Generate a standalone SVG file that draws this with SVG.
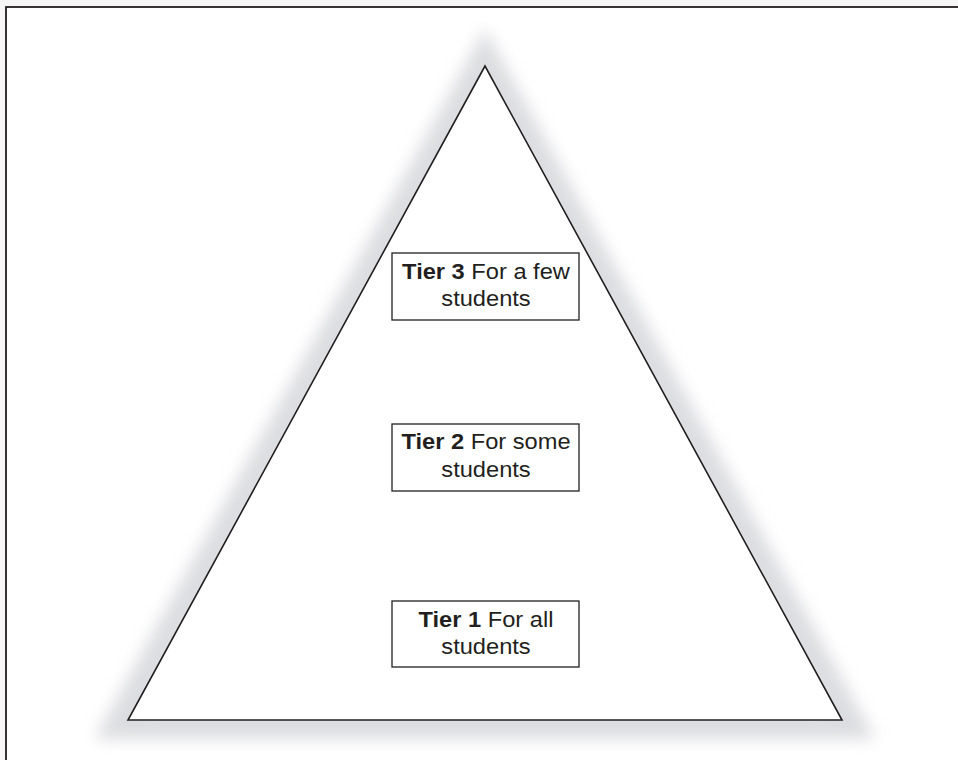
<svg xmlns="http://www.w3.org/2000/svg" width="958" height="760" viewBox="0 0 958 760">
<defs>
<style>
.box{fill:#fff;stroke:#231f20;stroke-width:1.3}
.t{font-family:"Liberation Sans",Arial,sans-serif;font-size:21.5px;fill:#231f20;text-anchor:middle}
.b{font-weight:bold}
</style>
<filter id="glow" x="-20%" y="-20%" width="140%" height="140%">
<feGaussianBlur stdDeviation="8"/>
</filter>
</defs>
<rect x="0" y="0" width="958" height="760" fill="#f6f6f6"/>
<rect x="6" y="7" width="970" height="780" fill="#fff" stroke="#231f20" stroke-width="1.8"/>
<g id="pyramid">
<polygon points="485,60 120,724 850,724" fill="none" stroke="#dcdde0" stroke-width="30" stroke-linejoin="miter" stroke-miterlimit="4" filter="url(#glow)"/>
<polygon points="485,66 128,720 842,720" fill="#fff" stroke="#231f20" stroke-width="1.6" stroke-linejoin="miter"/>
</g>
<g id="tier3">
<rect class="box" x="392" y="253" width="187" height="67"/>
<g transform="translate(486,0) scale(1.1,1)">
<text class="t" x="0" y="279"><tspan class="b">Tier 3</tspan> For a few</text>
<text class="t" x="0" y="306">students</text>
</g>
</g>
<g id="tier2">
<rect class="box" x="392" y="424" width="187" height="67"/>
<g transform="translate(486,0) scale(1.1,1)">
<text class="t" x="0" y="449"><tspan class="b">Tier 2</tspan> For some</text>
<text class="t" x="0" y="477">students</text>
</g>
</g>
<g id="tier1">
<rect class="box" x="392" y="601" width="187" height="66"/>
<g transform="translate(486,0) scale(1.1,1)">
<text class="t" x="0" y="627"><tspan class="b">Tier 1</tspan> For all</text>
<text class="t" x="0" y="654">students</text>
</g>
</g>
<g id="connectors"></g>
</svg>
